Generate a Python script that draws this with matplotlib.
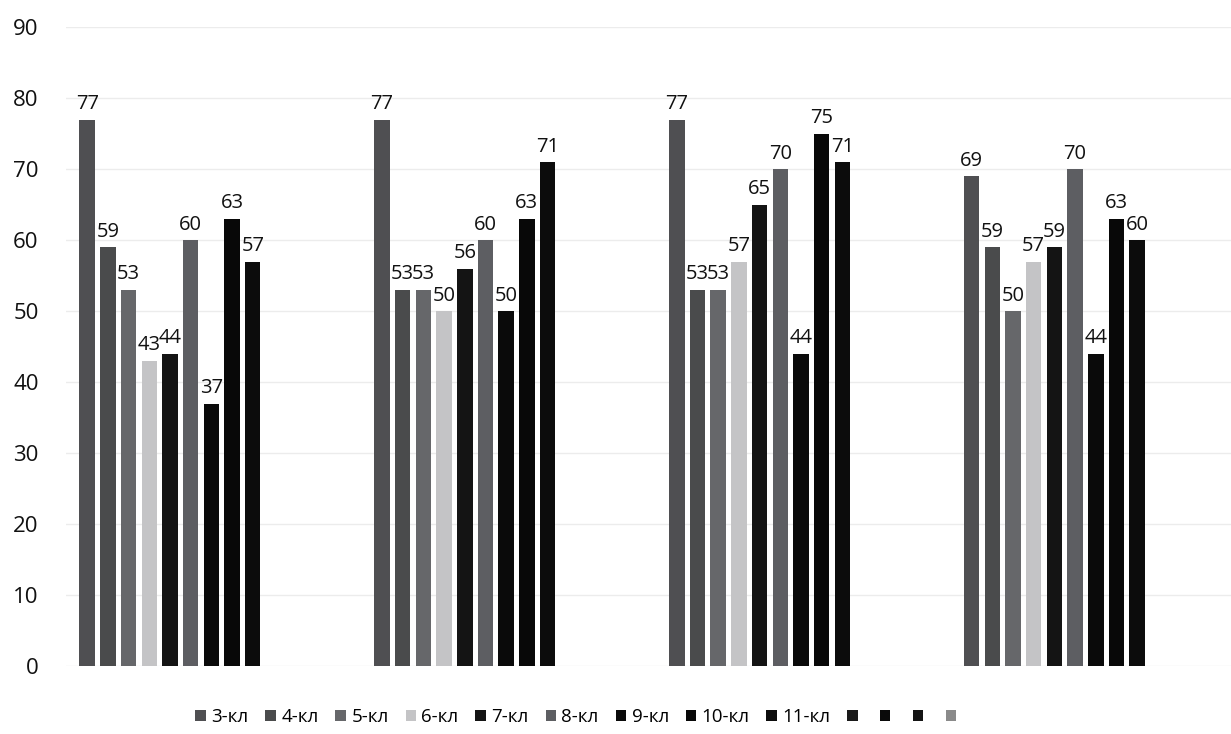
import matplotlib.pyplot as plt
import numpy as np

plt.rcParams['font.family'] = ['Open Sans', 'DejaVu Sans']

# группы (подписи категорий на оси X отсутствуют)
groups = ['1', '2', '3', '4']
series = ['3-кл', '4-кл', '5-кл', '6-кл', '7-кл', '8-кл', '9-кл', '10-кл', '11-кл', '', '', '', '']
values = [
    [77, 77, 77, 69],   # 3-кл
    [59, 53, 53, 59],   # 4-кл
    [53, 53, 53, 50],   # 5-кл
    [43, 50, 57, 57],   # 6-кл
    [44, 56, 65, 59],   # 7-кл
    [60, 60, 70, 70],   # 8-кл
    [37, 50, 44, 44],   # 9-кл
    [63, 63, 75, 63],   # 10-кл
    [57, 71, 71, 60],   # 11-кл
    [0, 0, 0, 0],
    [0, 0, 0, 0],
    [0, 0, 0, 0],
    [0, 0, 0, 0],
]
colors = ['#4f4f52', '#4a4b4c', '#66676a', '#c4c4c6', '#141414', '#5d5e62',
          '#0a0a0a', '#080808', '#0c0c0c', '#1a1a1a', '#0a0a0a', '#141414', '#8a8a8a']

fig = plt.figure(figsize=(12.31, 7.34), dpi=100)
ax = fig.add_axes([0.054, 0.0926, 0.946, 0.870])

x = np.arange(len(groups))
pitch = 0.0702
width = 0.0525
start = -0.5 + 0.044

handles = []
for j, (name, vals) in enumerate(zip(series, values)):
    pos = x + start + j * pitch + width / 2
    bars = ax.bar(pos, vals, width=width, color=colors[j], zorder=3)
    handles.append(bars)
    if name:
        for b, v in zip(bars, vals):
            ax.annotate(str(v), (b.get_x() + b.get_width() / 2, v),
                        xytext=(0, 4), textcoords='offset points',
                        ha='center', va='bottom', fontsize=14.5, color='#111111')

ax.set_xlim(-0.5, 3.45)
ax.set_ylim(0, 90)
ax.set_yticks(range(0, 91, 10))
ax.yaxis.grid(True, color='#ececec', linewidth=1.0, zorder=0)
ax.set_xticks([])
ax.tick_params(axis='y', length=0, labelsize=16, pad=20, labelcolor='#111111')
for s in ax.spines.values():
    s.set_visible(False)

fig.legend(handles, series, loc='center', bbox_to_anchor=(0.47, 0.023), ncol=13,
           frameon=False, fontsize=13.5, handlelength=0.55, handleheight=0.55,
           handletextpad=0.3, columnspacing=0.9)

plt.savefig('out.png', dpi=100)
